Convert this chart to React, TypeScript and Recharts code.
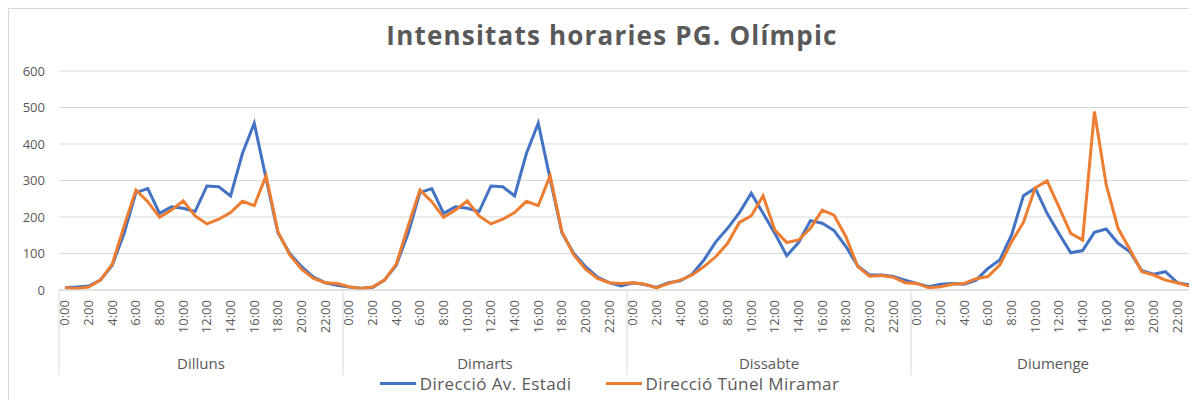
import React from "react";
import { LineChart, Line, XAxis, YAxis, CartesianGrid, Legend } from "recharts";

const days = ["Dilluns", "Dimarts", "Dissabte", "Diumenge"];
const hours = [
  "0:00", "1:00", "2:00", "3:00", "4:00", "5:00", "6:00", "7:00", "8:00", "9:00", "10:00", "11:00",
  "12:00", "13:00", "14:00", "15:00", "16:00", "17:00", "18:00", "19:00", "20:00", "21:00", "22:00", "23:00",
];

const estadiDilluns = [6, 8, 11, 27, 68, 155, 267, 278, 210, 228, 224, 215, 285, 283, 258, 374, 457, 305, 157, 100, 64, 35, 20, 13];
const estadiDimarts = [8, 5, 7, 27, 68, 155, 267, 278, 210, 228, 224, 215, 285, 283, 258, 374, 457, 305, 157, 100, 64, 35, 20, 11];
const estadiDissabte = [20, 15, 7, 20, 25, 43, 82, 132, 169, 212, 265, 210, 155, 94, 130, 190, 183, 163, 119, 66, 41, 41, 37, 27];
const estadiDiumenge = [18, 9, 16, 18, 16, 27, 59, 82, 151, 258, 279, 210, 155, 102, 108, 158, 167, 128, 105, 53, 43, 50, 20, 14];

const miramarDilluns = [6, 4, 8, 27, 71, 175, 274, 242, 199, 219, 244, 203, 181, 194, 212, 243, 231, 313, 160, 96, 57, 32, 20, 18];
const miramarDimarts = [9, 4, 8, 27, 71, 175, 274, 242, 199, 219, 244, 203, 181, 194, 212, 243, 231, 313, 160, 96, 57, 32, 20, 18];
const miramarDissabte = [20, 16, 6, 18, 27, 41, 64, 91, 128, 185, 203, 258, 164, 130, 137, 169, 219, 205, 146, 64, 38, 40, 35, 20];
const miramarDiumenge = [18, 6, 9, 16, 18, 31, 37, 68, 132, 185, 280, 299, 228, 155, 137, 489, 288, 169, 111, 50, 41, 27, 20, 11];

const yTicks = [0, 100, 200, 300, 400, 500, 600];

const estadi = [estadiDilluns, estadiDimarts, estadiDissabte, estadiDiumenge];
const miramar = [miramarDilluns, miramarDimarts, miramarDissabte, miramarDiumenge];

const data = days.flatMap((day, d) =>
  hours.map((hour, h) => ({
    key: `${day} ${hour}`,
    day,
    hour,
    h,
    estadi: estadi[d][h],
    miramar: miramar[d][h],
  }))
);

const FONT = "'Open Sans', sans-serif";
const GRAY = "#595959";
const LINE_GRAY = "#D9D9D9";
const BLUE = "#4472C4";
const ORANGE = "#ED7D31";

const CHART_W = 1186;
const CHART_H = 391;
const Y_W = 50;
const PLOT_W = CHART_W - Y_W;
const STEP = PLOT_W / data.length;

const HourTick = (props: any) => {
  const { x, y, index } = props;
  const row = data[index];
  if (!row) return null;
  return (
    <g>
      {row.h % 2 === 0 && (
        <text
          x={x}
          y={y + 10}
          transform={`rotate(-90, ${x}, ${y + 10})`}
          textAnchor="end"
          dy="0.35em"
          fill={GRAY}
          fontSize={13}
          fontFamily={FONT}
        >
          {row.hour}
        </text>
      )}
      {row.h === 0 && (
        <line x1={x - STEP / 2} x2={x - STEP / 2} y1={y} y2={y + 85} stroke={LINE_GRAY} />
      )}
      {index === data.length - 1 && (
        <line x1={x + STEP / 2} x2={x + STEP / 2} y1={y} y2={y + 85} stroke={LINE_GRAY} />
      )}
      {row.h === 11 && (
        <text
          x={x + STEP / 2}
          y={y + 79}
          textAnchor="middle"
          fill={GRAY}
          fontSize={15}
          fontFamily={FONT}
        >
          {row.day}
        </text>
      )}
    </g>
  );
};

const LegendContent = () => {
  const items = [
    { label: "Direcció Av. Estadi", color: BLUE },
    { label: "Direcció Túnel Miramar", color: ORANGE },
  ];
  return (
    <div
      style={{
        display: "flex",
        justifyContent: "center",
        alignItems: "center",
        gap: 34,
        paddingLeft: 15,
        height: 22,
        fontFamily: FONT,
        fontSize: 17,
        letterSpacing: 0.4,
        color: GRAY,
      }}
    >
      {items.map((it) => (
        <div key={it.label} style={{ display: "flex", alignItems: "center" }}>
          <span style={{ display: "inline-block", width: 36, height: 3, background: it.color, marginRight: 4 }} />
          <span>{it.label}</span>
        </div>
      ))}
    </div>
  );
};

export default function App() {
  return (
    <div
      style={{
        position: "relative",
        width: 1188,
        height: 392,
        boxSizing: "border-box",
        borderTop: `1px solid ${LINE_GRAY}`,
        borderLeft: `1px solid ${LINE_GRAY}`,
        borderRight: `1px solid ${LINE_GRAY}`,
        background: "#fff",
      }}
    >
      <div
        style={{
          position: "absolute",
          top: 13,
          left: 0,
          width: "100%",
          paddingLeft: 20,
          boxSizing: "border-box",
          textAlign: "center",
          fontFamily: FONT,
          fontWeight: 700,
          fontSize: 26,
          letterSpacing: 1.2,
          lineHeight: "26px",
          color: GRAY,
        }}
      >
        Intensitats horaries PG. Olímpic
      </div>
      <LineChart
        width={CHART_W}
        height={CHART_H}
        data={data}
        margin={{ top: 62, right: 0, left: 0, bottom: 6 }}
      >
        <CartesianGrid vertical={false} stroke={LINE_GRAY} />
        <XAxis
          dataKey="key"
          interval={0}
          height={82}
          tickSize={0}
          tickMargin={0}
          tickLine={false}
          padding={{ left: STEP / 2, right: STEP / 2 }}
          axisLine={{ stroke: LINE_GRAY }}
          tick={<HourTick />}
        />
        <YAxis
          domain={[0, 600]}
          ticks={yTicks}
          width={Y_W}
          axisLine={false}
          tickLine={false}
          tickMargin={8}
          tick={{ fill: GRAY, fontSize: 13, fontFamily: FONT }}
        />
        <Legend verticalAlign="bottom" height={22} content={<LegendContent />} />
        <Line
          type="linear"
          dataKey="estadi"
          name="Direcció Av. Estadi"
          stroke={BLUE}
          strokeWidth={3}
          dot={false}
          isAnimationActive={false}
        />
        <Line
          type="linear"
          dataKey="miramar"
          name="Direcció Túnel Miramar"
          stroke={ORANGE}
          strokeWidth={3}
          dot={false}
          isAnimationActive={false}
        />
      </LineChart>
    </div>
  );
}
